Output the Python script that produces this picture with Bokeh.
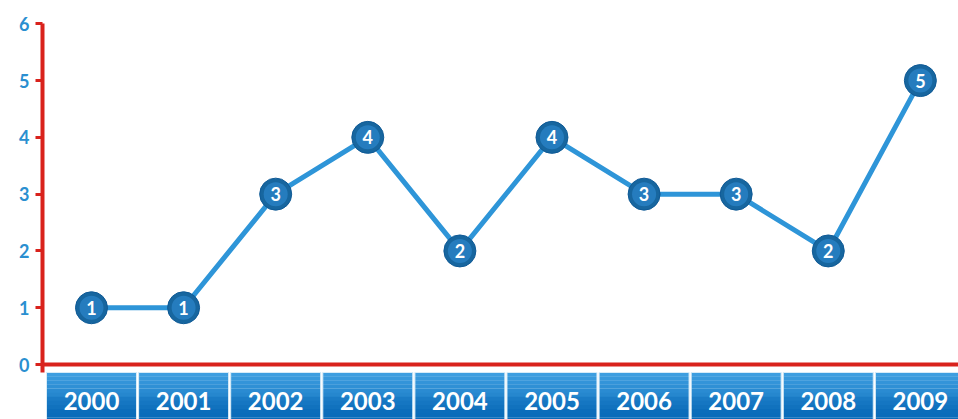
from bokeh.plotting import figure
from bokeh.models import Range1d, FixedTicker, Span, ColumnDataSource
from bokeh.core.properties import value
from bokeh.embed import file_html
from bokeh.resources import INLINE

years = ["2000", "2001", "2002", "2003", "2004", "2005", "2006", "2007", "2008", "2009"]
counts = [1, 1, 3, 4, 2, 4, 3, 3, 2, 5]
y_ticks = [0, 1, 2, 3, 4, 5, 6]

FONT = value("Lato")
xs = list(range(len(years)))

p = figure(width=958, height=419, output_backend="svg", toolbar_location=None,
           x_range=Range1d(-0.532, 9.414), y_range=Range1d(-0.968, 6.41),
           x_axis_location=None, min_border_left=42, min_border_right=0,
           min_border_top=0, min_border_bottom=0)
p.grid.visible = False
p.outline_line_color = None
p.background_fill_color = "white"

ax = p.yaxis[0]
ax.ticker = FixedTicker(ticks=y_ticks)
ax.bounds = (-0.14, 6)
ax.axis_line_color = "#d9221c"
ax.axis_line_width = 4
ax.major_tick_line_color = "#d9221c"
ax.major_tick_line_width = 3
ax.major_tick_out = 7
ax.major_tick_in = 0
ax.minor_tick_line_color = None
ax.major_label_text_color = "#2a8fd0"
ax.major_label_text_font = "Lato"
ax.major_label_text_font_style = "bold"
ax.major_label_text_font_size = "18px"
ax.major_label_standoff = 6

# category boxes (glossy buttons) built from stacked strips
box_w = 0.977
src = ColumnDataSource(dict(x=xs, label=years))
top, bottom = -0.14, -1.0
n = 12
c0 = (0x3d, 0x9e, 0xe0)
c1 = (0x0b, 0x6c, 0xba)
h = (top - bottom) / n
for k in range(n):
    t = k / (n - 1)
    if k >= n // 2:
        t = min(1.0, t + 0.15)
    col = "#%02x%02x%02x" % tuple(int(a + (b - a) * t) for a, b in zip(c0, c1))
    p.rect(x="x", y=top - h * (k + 0.5), width=box_w, height=h * 1.05, source=src,
           fill_color=col, line_color=None)
p.rect(x="x", y=(top + bottom) / 2, width=box_w, height=top - bottom, source=src,
       fill_color=None, line_color="#d8ecf8", line_width=1)
p.text(x="x", y=-0.64, text="label", source=src, text_align="center",
       text_baseline="middle", text_color="white", text_font=FONT,
       text_font_style="bold", text_font_size="24px")

p.add_layout(Span(location=0, dimension="width", line_color="#d9221c", line_width=4))

# line and markers
dsrc = ColumnDataSource(dict(x=xs, y=counts, t=[str(c) for c in counts]))
p.line(x="x", y="y", source=dsrc, line_color="#2e95d8", line_width=5)
p.scatter(x="x", y="y", source=dsrc, size=32, fill_color="#17669f",
          line_color="#0f5a96", line_width=1)
p.scatter(x="x", y="y", source=dsrc, size=24, fill_color="#2c86cc",
          line_color=None, fill_alpha=0.7)
p.text(x="x", y="y", text="t", source=dsrc, text_align="center",
       text_baseline="middle", text_color="white", text_font=FONT,
       text_font_style="bold", text_font_size="18px")

open("out.html", "w").write(file_html(p, INLINE))
